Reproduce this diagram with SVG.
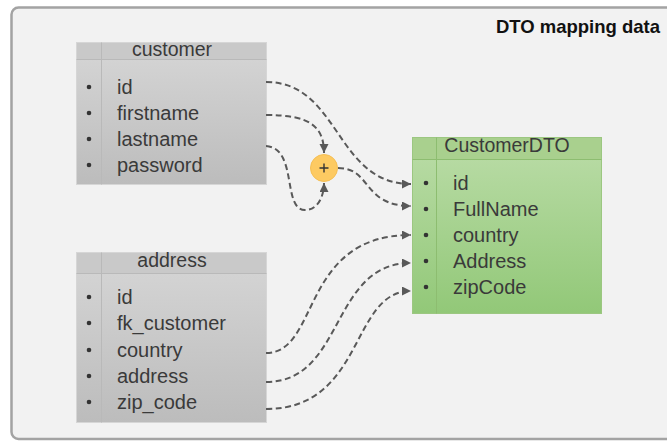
<svg xmlns="http://www.w3.org/2000/svg" width="667" height="441" viewBox="0 0 667 441">
<defs>
<linearGradient id="grayBody" x1="0" y1="0" x2="0" y2="1">
<stop offset="0" stop-color="#d3d3d3"/>
<stop offset="1" stop-color="#bcbcbc"/>
</linearGradient>
<linearGradient id="greenBody" x1="0" y1="0" x2="0" y2="1">
<stop offset="0" stop-color="#b6daa2"/>
<stop offset="1" stop-color="#92c878"/>
</linearGradient>
<marker id="arr" markerUnits="userSpaceOnUse" markerWidth="10" markerHeight="10" refX="9" refY="4.5" orient="auto">
<path d="M0,0 L9,4.5 L0,9 z" fill="#595959"/>
</marker>
<style>
text{font-family:"Liberation Sans",Arial,sans-serif;fill:#3a3a3a}
.item{font-size:20px}
.hdr{font-size:19.5px;text-anchor:middle}
.title{font-size:18.5px;font-weight:bold;text-anchor:end;fill:#111}
.bullet{fill:#333}
.grayHead{fill:#c9c9c9;stroke:#d6d6d6;stroke-width:1}
.grayBody{fill:url(#grayBody);stroke:#d6d6d6;stroke-width:1}
.grayLine{stroke:#b9b9b9;stroke-width:1;fill:none}
.greenHead{fill:#a9d08e;stroke:#9cc781;stroke-width:1}
.greenBody{fill:url(#greenBody);stroke:#9cc781;stroke-width:1}
.greenLine{stroke:#8dbd70;stroke-width:1;fill:none}
.conn{fill:none;stroke:#595959;stroke-width:2;stroke-dasharray:6,3.5}
</style>
</defs>
<rect x="0" y="0" width="667" height="441" fill="#ffffff"/>
<rect x="11.5" y="7.5" width="670" height="431.5" rx="7" fill="#f2f2f2" stroke="#a3a3a3" stroke-width="2.5"/>
<text class="title" x="660" y="33">DTO mapping data</text>

<g id="customer">
<rect class="grayHead" x="76.5" y="42.5" width="190" height="17"/>
<rect class="grayBody" x="76.5" y="59.5" width="190" height="125"/>
<line class="grayLine" x1="101.5" y1="42.5" x2="101.5" y2="184.5"/>
<line class="grayLine" x1="76.5" y1="59.5" x2="266.5" y2="59.5"/>
<text class="hdr" x="172" y="56">customer</text>
<circle class="bullet" cx="89" cy="87" r="2.3"/>
<circle class="bullet" cx="89" cy="113" r="2.3"/>
<circle class="bullet" cx="89" cy="139" r="2.3"/>
<circle class="bullet" cx="89" cy="165" r="2.3"/>
<text class="item" x="117" y="94">id</text>
<text class="item" x="117" y="120">firstname</text>
<text class="item" x="117" y="146">lastname</text>
<text class="item" x="117" y="172">password</text>
</g>

<g id="address">
<rect class="grayHead" x="76.5" y="252.5" width="190" height="21"/>
<rect class="grayBody" x="76.5" y="273.5" width="190" height="149"/>
<line class="grayLine" x1="101.5" y1="252.5" x2="101.5" y2="422.5"/>
<line class="grayLine" x1="76.5" y1="273.5" x2="266.5" y2="273.5"/>
<text class="hdr" x="172" y="267">address</text>
<circle class="bullet" cx="89" cy="297" r="2.3"/>
<circle class="bullet" cx="89" cy="323" r="2.3"/>
<circle class="bullet" cx="89" cy="350" r="2.3"/>
<circle class="bullet" cx="89" cy="376" r="2.3"/>
<circle class="bullet" cx="89" cy="402" r="2.3"/>
<text class="item" x="117" y="304">id</text>
<text class="item" x="117" y="330">fk_customer</text>
<text class="item" x="117" y="357">country</text>
<text class="item" x="117" y="383">address</text>
<text class="item" x="117" y="409">zip_code</text>
</g>

<g id="customerDTO">
<rect class="greenHead" x="412.5" y="137.5" width="189" height="22"/>
<rect class="greenBody" x="412.5" y="159.5" width="189" height="154"/>
<line class="greenLine" x1="436.5" y1="137.5" x2="436.5" y2="313.5"/>
<line class="greenLine" x1="412.5" y1="159.5" x2="601.5" y2="159.5"/>
<text class="hdr" x="507" y="152">CustomerDTO</text>
<circle class="bullet" cx="426" cy="183" r="2.3"/>
<circle class="bullet" cx="426" cy="209" r="2.3"/>
<circle class="bullet" cx="426" cy="235" r="2.3"/>
<circle class="bullet" cx="426" cy="261" r="2.3"/>
<circle class="bullet" cx="426" cy="287" r="2.3"/>
<text class="item" x="453" y="190">id</text>
<text class="item" x="453" y="216">FullName</text>
<text class="item" x="453" y="242">country</text>
<text class="item" x="453" y="268">Address</text>
<text class="item" x="453" y="294">zipCode</text>
</g>

<g id="plus">
<circle cx="324" cy="168" r="13.5" fill="#fdca62" stroke="#f5bf55" stroke-width="1"/>
<path d="M319.5,168 H328.5 M324,163.5 V172.5" stroke="#333" stroke-width="1.4"/>
</g>

<g id="connectors">
<path class="conn" marker-end="url(#arr)" d="M266,82 C340,82 335,184 411,184"/>
<path class="conn" marker-end="url(#arr)" d="M266,115 C308,115 324,125 324,153"/>
<path class="conn" marker-end="url(#arr)" d="M266,146 C298,148 282,210 305,210 C318,210 324,196 324,183"/>
<path class="conn" marker-end="url(#arr)" d="M338,168 C372,168 362,206 411,206"/>
<path class="conn" marker-end="url(#arr)" d="M266,353 C320,353 300,235 411,235"/>
<path class="conn" marker-end="url(#arr)" d="M266,382 C345,382 330,263 411,263"/>
<path class="conn" marker-end="url(#arr)" d="M266,409 C365,409 350,291 411,291"/>
</g>
</svg>
